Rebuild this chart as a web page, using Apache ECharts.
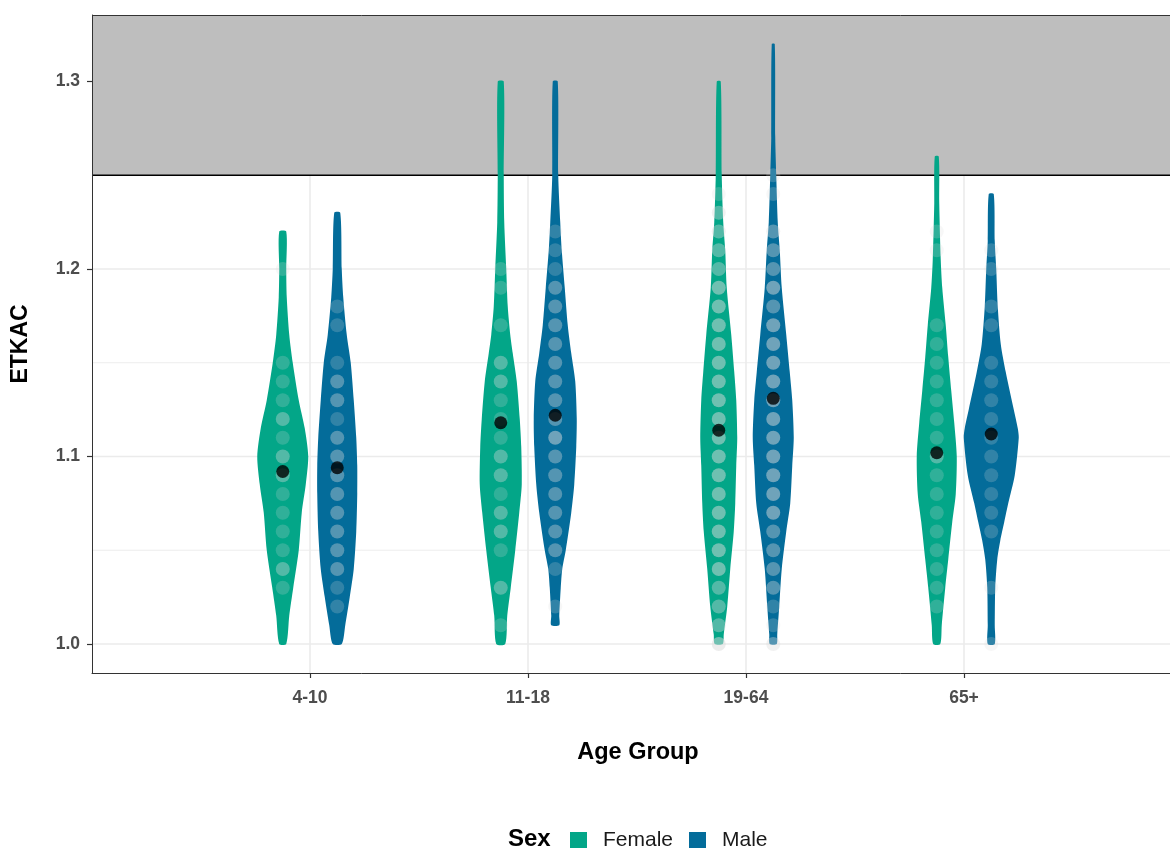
<!DOCTYPE html>
<html><head><meta charset="utf-8">
<script src="https://cdn.jsdelivr.net/npm/echarts@6/dist/echarts.min.js"></script>
<style>html,body{margin:0;padding:0;background:#fff}#c{width:1170px;height:848px}</style>
</head><body><div id="c"></div>
<script>
// ---------------- data ----------------
const categories = ['4-10', '11-18', '19-64', '65+'];
const sexes = ['Female', 'Male'];
const yTicks = [1.0, 1.1, 1.2, 1.3];
const yMinorGrid = [1.05, 1.15, 1.25];
const threshold = 1.25;

// violin density profiles: [ETKAC, density width]
const femaleViolins = [
  [[1.00,7],[1.015,13],[1.03,21],[1.05,32],[1.07,38],[1.085,46],[1.10,51],[1.115,44],[1.13,32],[1.15,20],[1.165,13],[1.185,8],[1.20,7],[1.22,7]],
  [[1.00,9],[1.015,13],[1.03,20],[1.05,29],[1.07,37],[1.085,42],[1.105,41],[1.12,38],[1.14,32],[1.155,24],[1.165,19],[1.18,14],[1.20,11],[1.225,7],[1.25,6],[1.30,6]],
  [[1.00,8],[1.005,10],[1.02,17],[1.04,23],[1.06,30],[1.075,33],[1.095,35],[1.11,37],[1.13,35],[1.145,31],[1.165,25],[1.19,16],[1.21,13],[1.225,9],[1.25,6],[1.30,4]],
  [[1.00,7],[1.01,10],[1.03,17],[1.045,23],[1.065,31],[1.08,38],[1.10,40],[1.118,35],[1.135,29],[1.153,23],[1.17,18],[1.19,11],[1.205,8],[1.235,5],[1.26,4]]
];
const maleViolins = [
  [[1.00,9],[1.01,16],[1.025,25],[1.04,33],[1.06,38],[1.08,40],[1.095,40],[1.11,38],[1.13,33],[1.15,27],[1.165,19],[1.185,12],[1.20,9],[1.23,6]],
  [[1.01,8],[1.015,8],[1.03,11],[1.04,14],[1.05,21],[1.07,32],[1.085,38],[1.105,42],[1.12,43],[1.14,40],[1.155,32],[1.17,25],[1.19,19],[1.21,13],[1.225,10],[1.25,6],[1.30,5]],
  [[1.00,7],[1.005,8],[1.02,12],[1.04,17],[1.06,26],[1.075,34],[1.095,38],[1.11,41],[1.13,38],[1.145,33],[1.165,26],[1.19,17],[1.21,13],[1.225,9],[1.25,6],[1.27,4],[1.32,3]],
  [[1.00,7],[1.01,7],[1.03,8],[1.045,12],[1.055,18],[1.065,26],[1.075,34],[1.09,47],[1.11,55],[1.115,53],[1.125,45],[1.145,29],[1.16,19],[1.18,13],[1.20,10],[1.215,7],[1.24,5]]
];

// observed points: [ETKAC, number of overlapping observations]
const femaleDots = [
  [[1.03,1],[1.04,2],[1.05,1],[1.06,1],[1.07,1],[1.08,1],[1.09,2],[1.10,2],[1.11,1],[1.12,2],[1.13,1],[1.14,1],[1.15,1],[1.20,1]],
  [[1.01,1],[1.03,2],[1.05,1],[1.06,2],[1.07,2],[1.08,1],[1.09,2],[1.10,2],[1.11,1],[1.12,1],[1.13,1],[1.14,2],[1.15,2],[1.17,1],[1.19,1],[1.20,1]],
  [[1.00,3],[1.01,2],[1.02,2],[1.03,2],[1.04,3],[1.05,3],[1.06,3],[1.07,3],[1.08,3],[1.09,3],[1.10,3],[1.11,3],[1.12,3],[1.13,3],[1.14,3],[1.15,3],[1.16,3],[1.17,3],[1.18,3],[1.19,3],[1.20,2],[1.21,2],[1.22,2],[1.23,2],[1.24,1]],
  [[1.02,1],[1.03,1],[1.04,1],[1.05,1],[1.06,1],[1.07,1],[1.08,1],[1.09,1],[1.10,2],[1.11,1],[1.12,1],[1.13,1],[1.14,1],[1.15,1],[1.16,1],[1.17,1],[1.21,1],[1.22,1]]
];
const maleDots = [
  [[1.02,1],[1.03,1],[1.04,2],[1.05,2],[1.06,2],[1.07,2],[1.08,2],[1.09,2],[1.10,2],[1.11,2],[1.12,1],[1.13,2],[1.14,2],[1.15,1],[1.17,1],[1.18,1]],
  [[1.02,1],[1.04,1],[1.05,2],[1.06,2],[1.07,2],[1.08,2],[1.09,2],[1.10,2],[1.11,3],[1.12,2],[1.13,2],[1.14,2],[1.15,2],[1.16,2],[1.17,2],[1.18,2],[1.19,2],[1.20,1],[1.21,1],[1.22,1]],
  [[1.00,2],[1.01,1],[1.02,1],[1.03,2],[1.04,2],[1.05,2],[1.06,2],[1.07,3],[1.08,3],[1.09,3],[1.10,3],[1.11,3],[1.12,3],[1.13,3],[1.14,3],[1.15,3],[1.16,3],[1.17,3],[1.18,2],[1.19,3],[1.20,2],[1.21,2],[1.22,2],[1.24,1],[1.25,1]],
  [[1.00,1],[1.03,1],[1.06,1],[1.07,1],[1.08,1],[1.09,1],[1.10,1],[1.11,1],[1.12,1],[1.13,1],[1.14,1],[1.15,1],[1.17,1],[1.18,1],[1.20,1],[1.21,1]]
];

const femaleMeans = [1.092, 1.118, 1.114, 1.102];
const maleMeans = [1.094, 1.122, 1.131, 1.112];

// ---------------- style ----------------
const COLORS = { Female: '#03A688', Male: '#046C9A' };
const DODGE = { Female: -0.125, Male: 0.125 };
const WIDTH_SCALE = 1 / 218;       // x-axis units per density-width unit
const X_MAX = 1078 / 218;          // panel continues past the right edge of the picture
const Y_MIN = 0.98453, Y_MAX = 1.33547;
const FONT = '"Liberation Sans", Arial, sans-serif';

const chart = echarts.init(document.getElementById('c'), null, { renderer: 'canvas' });

function violinSeries(name, profiles) {
  const off = DODGE[name];
  return {
    type: 'custom', name, z: 5,
    itemStyle: { color: COLORS[name] },
    data: profiles.map((p, i) => [i + 1 + off, p[0][0], p[p.length - 1][0]]),
    encode: { x: 0, y: [1, 2] },
    renderItem(params, api) {
      const prof = profiles[params.dataIndex];
      const cx = api.value(0);
      const left = prof.map(([y, w]) => api.coord([cx - w * WIDTH_SCALE / 2, y]));
      const right = prof.slice().reverse().map(([y, w]) => api.coord([cx + w * WIDTH_SCALE / 2, y]));
      return { type: 'polygon', shape: { points: left.concat(right), smooth: 0.25 }, style: { fill: COLORS[name] } };
    }
  };
}

function dotSeries(name, dots) {
  const off = DODGE[name];
  const data = [];
  dots.forEach((arr, i) => arr.forEach(([v, n]) => data.push([i + 1 + off, v, n])));
  return {
    type: 'custom', name: name + ' points', z: 6, silent: true,
    data, encode: { x: 0, y: 1 },
    renderItem(params, api) {
      const p = api.coord([api.value(0), api.value(1)]);
      const n = api.value(2);
      return { type: 'circle', shape: { cx: p[0], cy: p[1], r: 7 },
        style: { fill: '#DADADA', opacity: 1 - Math.pow(0.79, n) } };
    }
  };
}

function meanSeries(name, means) {
  return {
    type: 'scatter', name: name + ' mean', z: 7, silent: true,
    symbolSize: 13, itemStyle: { color: '#000' },
    data: means.map((m, i) => [i + 1 + DODGE[name], m])
  };
}

const gridSeries = {
  type: 'custom', name: 'grid', z: 1, silent: true,
  data: yTicks.map(v => [0, v, 1]).concat(yMinorGrid.map(v => [0, v, 0]))
        .concat(categories.map((c, i) => [i + 1, Y_MIN, 2])),
  encode: { x: 0, y: 1 },
  renderItem(params, api) {
    const cs = params.coordSys;
    const kind = api.value(2);
    if (kind === 2) {
      const x = api.coord([api.value(0), Y_MIN])[0];
      return { type: 'line', shape: { x1: x, y1: cs.y, x2: x, y2: cs.y + cs.height },
        style: { stroke: '#EBEBEB', lineWidth: 1.6 } };
    }
    const y = api.coord([0, api.value(1)])[1];
    return { type: 'line', shape: { x1: cs.x, y1: y, x2: cs.x + cs.width, y2: y },
      style: { stroke: '#EBEBEB', lineWidth: kind === 1 ? 1.6 : 0.9 } };
  }
};

const bandSeries = {
  type: 'custom', name: 'band', z: 2, silent: true,
  data: [[0, threshold]], encode: { x: 0, y: 1 },
  renderItem(params, api) {
    const cs = params.coordSys;
    const y = api.coord([0, api.value(1)])[1];
    return { type: 'group', children: [
      { type: 'rect', shape: { x: cs.x, y: cs.y, width: cs.width, height: y - cs.y }, style: { fill: '#BEBEBE' } },
      { type: 'line', shape: { x1: cs.x, y1: y, x2: cs.x + cs.width, y2: y }, style: { stroke: '#000', lineWidth: 1.6 } },
      { type: 'line', shape: { x1: cs.x, y1: cs.y + 0.5, x2: cs.x + cs.width, y2: cs.y + 0.5 }, style: { stroke: '#333', lineWidth: 1 } },
      { type: 'line', shape: { x1: cs.x + 0.5, y1: cs.y, x2: cs.x + 0.5, y2: cs.y + cs.height }, style: { stroke: '#333', lineWidth: 1 } }
    ] };
  }
};

const option = {
  backgroundColor: '#fff',
  animation: false,
  textStyle: { fontFamily: FONT },
  grid: { left: 92, right: 0, top: 15, bottom: 175, show: false, containLabel: false },
  xAxis: {
    type: 'value', min: 0, max: X_MAX,
    axisLine: { show: true, lineStyle: { color: '#333', width: 1 } },
    axisTick: { show: true, length: 5, lineStyle: { color: '#333', width: 1.2 }, customValues: [1, 2, 3, 4] },
    axisLabel: { customValues: [1, 2, 3, 4], formatter: v => categories[Math.round(v) - 1] || '',
      fontSize: 17.5, fontWeight: 'bold', color: '#4D4D4D', margin: 16, fontFamily: FONT },
    splitLine: { show: false },
    name: 'Age Group', nameLocation: 'middle', nameGap: 68,
    nameTextStyle: { fontSize: 23.5, fontWeight: 'bold', color: '#000', fontFamily: FONT, padding: [0, 0, 0, 14] }
  },
  yAxis: {
    type: 'value', min: Y_MIN, max: Y_MAX,
    axisLine: { show: true, lineStyle: { color: '#333', width: 1 } },
    axisTick: { show: true, length: 5, lineStyle: { color: '#333', width: 1.2 }, customValues: yTicks },
    axisLabel: { customValues: yTicks, formatter: v => v.toFixed(1),
      fontSize: 17.5, fontWeight: 'bold', color: '#4D4D4D', margin: 12, fontFamily: FONT },
    splitLine: { show: false },
    name: 'ETKAC', nameLocation: 'middle', nameGap: 60,
    nameTextStyle: { fontSize: 23, fontWeight: 'bold', color: '#000', fontFamily: FONT }
  },
  legend: {
    data: sexes, left: 570, top: 830, padding: 0, itemWidth: 17, itemHeight: 17, itemGap: 16,
    icon: 'rect', selectedMode: false,
    textStyle: { fontSize: 21, color: '#1A1A1A', fontFamily: FONT, padding: [0, 0, 0, 11] }
  },
  graphic: [
    { type: 'text', left: 508, top: 827, style: { text: 'Sex', font: 'bold 24px ' + FONT, fill: '#000' } }
  ],
  series: [
    gridSeries, bandSeries,
    violinSeries('Female', femaleViolins), violinSeries('Male', maleViolins),
    dotSeries('Female', femaleDots), dotSeries('Male', maleDots),
    meanSeries('Female', femaleMeans), meanSeries('Male', maleMeans)
  ]
};
chart.setOption(option);
</script>
</body></html>
